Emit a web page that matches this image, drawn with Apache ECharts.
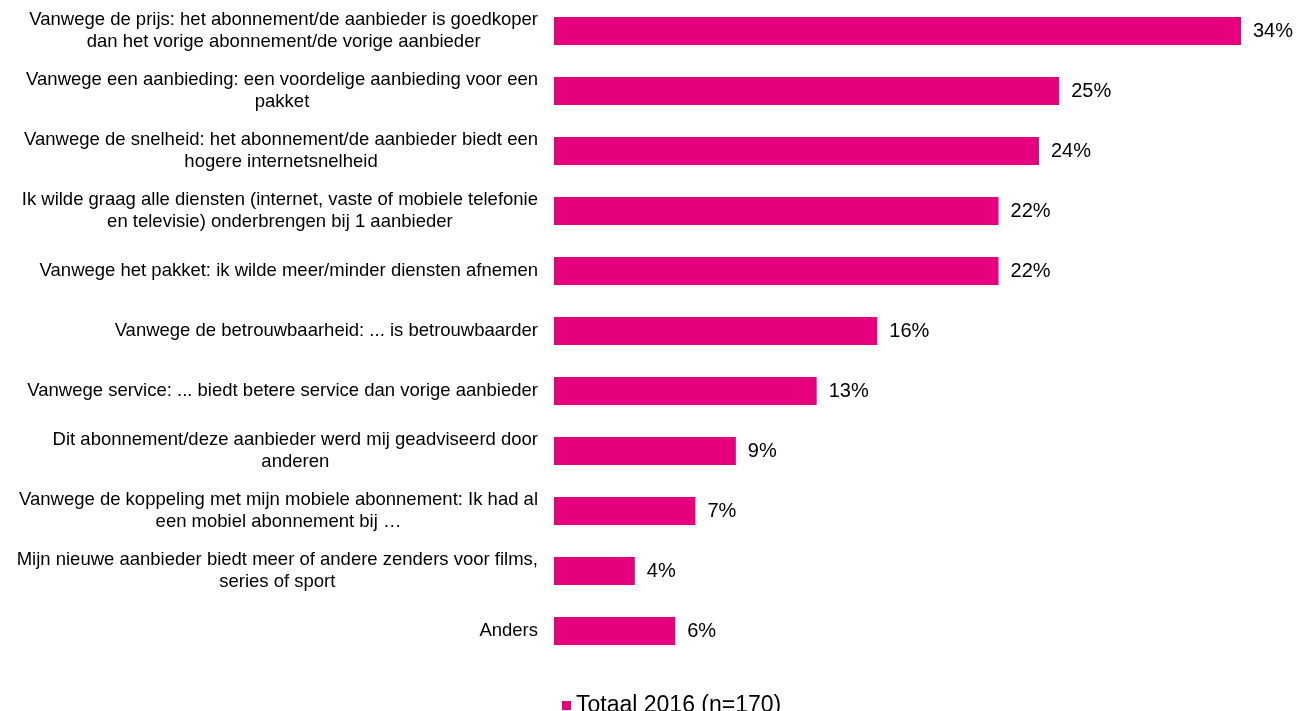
<!DOCTYPE html>
<html>
<head>
<meta charset="utf-8">
<script src="https://cdn.jsdelivr.net/npm/echarts@6/dist/echarts.min.js"></script>
<style>
  html, body { margin: 0; padding: 0; background: #fff; }
  #chart { width: 1299px; height: 711px; }
</style>
</head>
<body>
<div id="chart"></div>
<script>
// Reasons for choosing the new subscription / provider (top to bottom)
const categories = [
  'Vanwege de prijs: het abonnement/de aanbieder is goedkoper\ndan het vorige abonnement/de vorige aanbieder',
  'Vanwege een aanbieding: een voordelige aanbieding voor een\npakket',
  'Vanwege de snelheid: het abonnement/de aanbieder biedt een\nhogere internetsnelheid',
  'Ik wilde graag alle diensten (internet, vaste of mobiele telefonie\nen televisie) onderbrengen bij 1 aanbieder',
  'Vanwege het pakket: ik wilde meer/minder diensten afnemen',
  'Vanwege de betrouwbaarheid: ... is betrouwbaarder',
  'Vanwege service: ... biedt betere service dan vorige aanbieder',
  'Dit abonnement/deze aanbieder werd mij geadviseerd door\nanderen',
  'Vanwege de koppeling met mijn mobiele abonnement: Ik had al\neen mobiel abonnement bij \u2026',
  'Mijn nieuwe aanbieder biedt meer of andere zenders voor films,\nseries of sport',
  'Anders'
];
const values = [34, 25, 24, 22, 22, 16, 13, 9, 7, 4, 6];
const seriesName = 'Totaal 2016 (n=170)';

const FONT = '"Liberation Sans", Arial, sans-serif';
const chart = echarts.init(document.getElementById('chart'), null, { renderer: 'canvas' });

chart.setOption({
  animation: false,
  textStyle: { fontFamily: FONT },
  grid: { left: 554, right: 58, top: 1, height: 660, containLabel: false },
  xAxis: {
    type: 'value', min: 0, max: 34,
    show: false
  },
  yAxis: {
    type: 'category',
    inverse: true,
    data: categories,
    axisLine: { show: false },
    axisTick: { show: false },
    splitLine: { show: false },
    axisLabel: {
      margin: 16,
      color: '#000',
      fontSize: 18.5,
      lineHeight: 22,
      align: 'right',
      // each line is centred within the right-aligned label block
      formatter: function (v) {
        return v.split('\n').map(function (s) { return '{c|' + s + '}'; }).join('\n');
      },
      rich: {
        c: { align: 'center', fontSize: 18.5, lineHeight: 22, color: '#000', fontFamily: FONT }
      }
    }
  },
  legend: {
    left: 557,
    top: 689,
    itemWidth: 9,
    itemHeight: 9,
    itemGap: 6,
    icon: 'rect',
    textStyle: { fontSize: 23, color: '#000', fontFamily: FONT },
    data: [seriesName]
  },
  series: [{
    name: seriesName,
    type: 'bar',
    data: values,
    barWidth: 28,
    itemStyle: { color: '#E6007E' },
    label: {
      show: true,
      position: 'right',
      distance: 12,
      color: '#000',
      fontSize: 20,
      fontFamily: FONT,
      formatter: '{c}%'
    }
  }]
});
</script>
</body>
</html>
